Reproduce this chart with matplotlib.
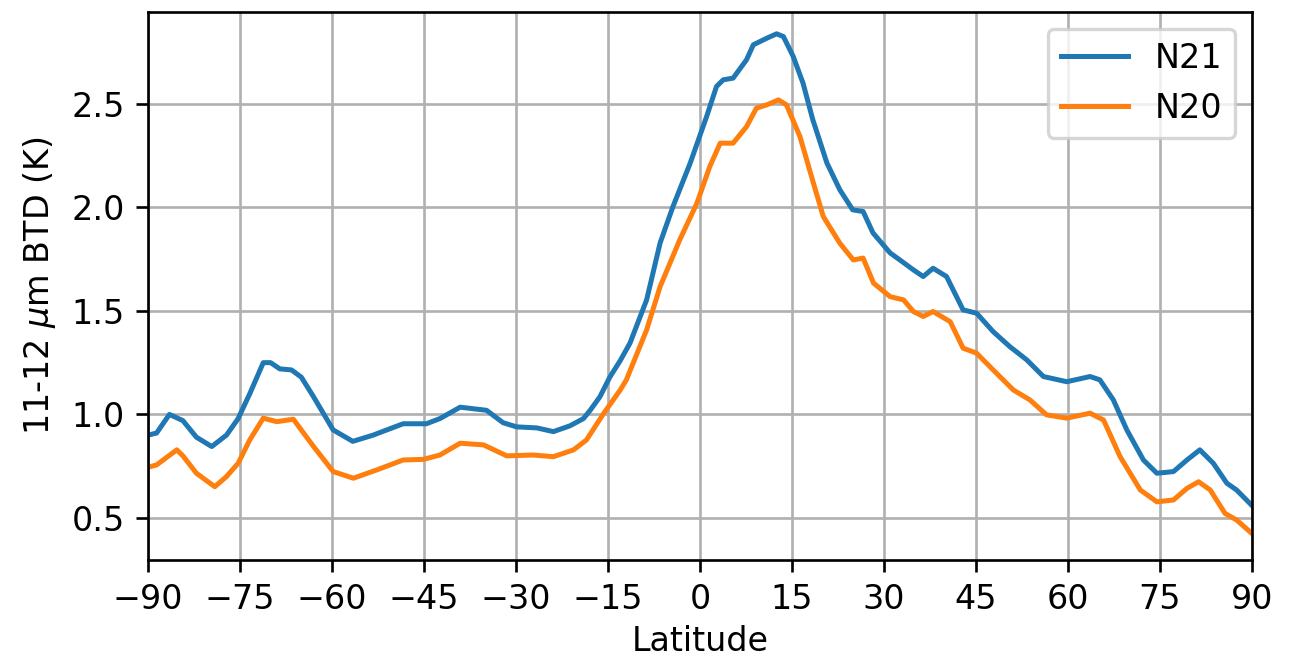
import matplotlib
matplotlib.use("Agg")
import matplotlib.pyplot as plt

# zonal mean 11-12 um BTD
lat_n21 = [-90, -88.6, -86.5, -84.3, -82.1, -79.6, -77.2, -75.3, -73.4, -71.2, -70.0,
           -68.5, -66.6, -65.0, -63.1, -59.8, -56.6, -53.3, -48.4, -44.6, -42.4,
           -39.1, -34.8, -32.1, -29.9, -26.6, -23.9, -21.2, -19.0, -17.9, -16.3,
           -14.7, -13.0, -11.4, -8.7, -6.5, -4.4, -1.6, 1.1, 2.7, 3.8, 5.4, 7.6,
           8.7, 10.9, 12.5, 13.6, 15.2, 16.8, 18.4, 20.7, 22.8, 24.9, 26.6, 28.2,
           31.0, 33.1, 34.8, 36.4, 38.0, 40.2, 42.9, 45.1, 47.8, 50.5, 53.3, 56.0,
           59.8, 63.6, 65.2, 67.4, 69.6, 72.3, 74.5, 77.2, 79.4, 81.5, 83.7, 85.9,
           87.5, 90]
btd_n21 = [0.90, 0.91, 1.00, 0.97, 0.89, 0.845, 0.90, 0.98, 1.10, 1.25, 1.25,
           1.22, 1.215, 1.18, 1.09, 0.925, 0.87, 0.90, 0.955, 0.955, 0.98,
           1.035, 1.02, 0.96, 0.94, 0.935, 0.917, 0.945, 0.98, 1.02, 1.086,
           1.18, 1.26, 1.345, 1.553, 1.828, 2.004, 2.213, 2.44, 2.584, 2.616,
           2.624, 2.713, 2.785, 2.817, 2.838, 2.825, 2.729, 2.60, 2.423, 2.214,
           2.085, 1.988, 1.98, 1.877, 1.78, 1.735, 1.698, 1.666, 1.706, 1.666,
           1.505, 1.489, 1.40, 1.328, 1.263, 1.183, 1.158, 1.183, 1.167, 1.07,
           0.925, 0.78, 0.716, 0.724, 0.78, 0.829, 0.764, 0.668, 0.635, 0.56]

lat_n20 = [-90, -88.6, -85.3, -84.3, -82.1, -79.1, -77.2, -75.3, -73.4, -71.2,
           -69.0, -66.3, -63.0, -59.8, -56.5, -52.7, -48.4, -45.1, -42.4, -39.1,
           -35.3, -31.5, -27.2, -23.9, -20.6, -18.5, -15.7, -13.0, -12.0, -8.7,
           -6.5, -3.3, -0.5, 1.6, 3.3, 5.4, 7.6, 9.2, 10.9, 12.8, 14.1, 16.3,
           18.5, 20.1, 22.8, 25.0, 26.6, 28.3, 31.0, 33.2, 34.8, 36.4, 38.0,
           40.8, 42.9, 45.1, 47.8, 51.1, 53.8, 56.5, 59.8, 63.6, 65.8, 68.5,
           71.8, 74.5, 77.2, 79.4, 81.3, 83.2, 85.6, 87.5, 90]
btd_n20 = [0.745, 0.756, 0.829, 0.80, 0.716, 0.651, 0.70, 0.764, 0.877, 0.982,
           0.965, 0.977, 0.845, 0.724, 0.692, 0.732, 0.78, 0.783, 0.804, 0.861,
           0.853, 0.80, 0.804, 0.796, 0.829, 0.877, 1.005, 1.118, 1.167, 1.408,
           1.617, 1.843, 2.02, 2.197, 2.31, 2.31, 2.39, 2.479, 2.495, 2.519,
           2.495, 2.342, 2.117, 1.956, 1.827, 1.746, 1.755, 1.634, 1.569, 1.553,
           1.497, 1.473, 1.497, 1.448, 1.32, 1.296, 1.215, 1.118, 1.07, 0.998,
           0.982, 1.006, 0.973, 0.796, 0.635, 0.578, 0.587, 0.643, 0.675, 0.635,
           0.522, 0.49, 0.425]

# smaller figure at higher dpi -> text and lines come out ~1.2x bigger
fig, ax = plt.subplots(figsize=(5.408, 2.75), dpi=240)
fig.subplots_adjust(left=0.114, right=0.9646, top=0.982, bottom=0.1515)

ax.plot(lat_n21, btd_n21, label="N21")
ax.plot(lat_n20, btd_n20, label="N20")

ax.set_xlim(-90, 90)
ax.set_ylim(0.297, 2.944)
ax.set_xticks(range(-90, 91, 15))
ax.set_xlabel("Latitude", labelpad=2.5)
ax.set_ylabel(r"11-12 $\mu$m BTD (K)")
ax.grid(True)
ax.legend(loc="upper right")

fig.savefig("out.png", dpi=240)
